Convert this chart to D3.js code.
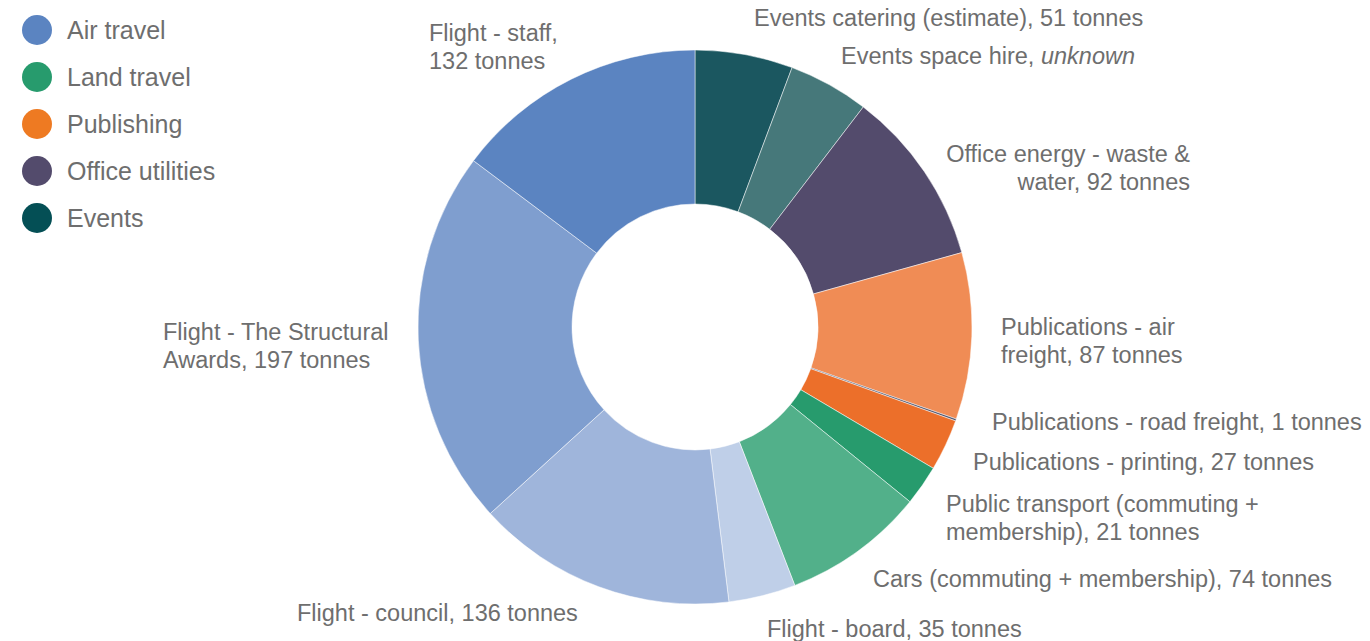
<!DOCTYPE html>
<html>
<head>
<meta charset="utf-8">
<script src="https://cdnjs.cloudflare.com/ajax/libs/d3/7.8.5/d3.min.js"></script>
<style>
  body { margin: 0; background: #fff; }
  svg text { font-family: "Liberation Sans", Arial, sans-serif; fill: #6e6e6e; }
</style>
</head>
<body>
<div id="chart"></div>
<script>
// slices, clockwise from 12 o'clock
const categories = [
  'Events catering (estimate)', 'Events space hire', 'Office energy - waste & water',
  'Publications - air freight', 'Publications - road freight', 'Publications - printing',
  'Public transport (commuting + membership)', 'Cars (commuting + membership)',
  'Flight - board', 'Flight - council', 'Flight - The Structural Awards', 'Flight - staff'
];
const tonnes = [51, 42, 92, 87, 1, 27, 21, 74, 35, 136, 197, 132]; // space hire size estimated
const valueText = ['51 tonnes', 'unknown', '92 tonnes', '87 tonnes', '1 tonnes', '27 tonnes',
  '21 tonnes', '74 tonnes', '35 tonnes', '136 tonnes', '197 tonnes', '132 tonnes'];
const sliceColors = ['#1b5760', '#46787a', '#534b6c', '#f08c55', '#4d4f66', '#ec6f2a',
  '#279b6d', '#52b08a', '#bfcfe8', '#9fb5db', '#7f9ecf', '#5b84c1'];

const legendNames = ['Air travel', 'Land travel', 'Publishing', 'Office utilities', 'Events'];
const legendColors = ['#5b84c1', '#279b6d', '#ee7a22', '#534b6c', '#044f55'];

// label text lines (the last line carries the value)
const labelLines = [
  ['Events catering (estimate), 51 tonnes'],
  ['Events space hire, '],
  ['Office energy - waste &', 'water, 92 tonnes'],
  ['Publications - air', 'freight, 87 tonnes'],
  ['Publications - road freight, 1 tonnes'],
  ['Publications - printing, 27 tonnes'],
  ['Public transport (commuting +', 'membership), 21 tonnes'],
  ['Cars (commuting + membership), 74 tonnes'],
  ['Flight - board, 35 tonnes'],
  ['Flight - council, 136 tonnes'],
  ['Flight - The Structural', 'Awards, 197 tonnes'],
  ['Flight - staff,', '132 tonnes']
];

const width = 1370, height = 641;
const cx = 695, cy = 327, outerR = 277, innerR = 123;

// label anchor points (offset from the donut centre)
const labelLayout = [
  {dx: 59, dy: -301, anchor: 'start'},
  {dx: 440, dy: -263, anchor: 'end'},
  {dx: 495, dy: -165, anchor: 'end'},
  {dx: 306, dy: 8, anchor: 'start'},
  {dx: 297, dy: 103, anchor: 'start'},
  {dx: 278, dy: 143, anchor: 'start'},
  {dx: 251, dy: 185, anchor: 'start'},
  {dx: 178, dy: 260, anchor: 'start'},
  {dx: 72, dy: 310, anchor: 'start'},
  {dx: -398, dy: 294, anchor: 'start'},
  {dx: -532, dy: 13, anchor: 'start'},
  {dx: -266, dy: -286, anchor: 'start'}
];
const lineH = 27.5;

const svg = d3.select('#chart').append('svg')
  .attr('width', width)
  .attr('height', height);

const pie = d3.pie().sort(null).value(d => d);
const arc = d3.arc().innerRadius(innerR).outerRadius(outerR);

const g = svg.append('g')
  .attr('transform', 'translate(' + cx + ',' + cy + ')');

g.selectAll('path.slice') // donut slices
  .data(pie(tonnes)).enter().append('path')
  .attr('class', 'slice')
  .attr('d', arc)
  .attr('fill', (d, i) => sliceColors[i])
  .attr('stroke', '#fff')
  .attr('stroke-width', 0.5);

const labels = g.selectAll('text.lbl') // slice labels
  .data(labelLines).enter().append('text')
  .attr('class', 'lbl')
  .attr('font-size', 23.5)
  .attr('text-anchor', (d, i) => labelLayout[i].anchor)
  .attr('transform', (d, i) => 'translate(' + labelLayout[i].dx + ',' + labelLayout[i].dy + ')');

labels.each(function (lines, i) {
  const t = d3.select(this);
  lines.forEach((ln, j) => {
    t.append('tspan').attr('x', 0).attr('dy', j === 0 ? 0 : lineH).text(ln);
  });
  if (valueText[i] === 'unknown') {
    t.append('tspan').attr('font-style', 'italic').text(valueText[i]);
  }
});

const legend = svg.append('g').selectAll('g') // legend
  .data(legendNames).enter().append('g')
  .attr('transform', (d, i) => 'translate(37,' + (30 + i * 47) + ')');
legend.append('circle')
  .attr('r', 15)
  .attr('fill', (d, i) => legendColors[i]);
legend.append('text')
  .attr('x', 30)
  .attr('y', 9)
  .attr('font-size', 25)
  .text(d => d);
</script>
</body>
</html>
